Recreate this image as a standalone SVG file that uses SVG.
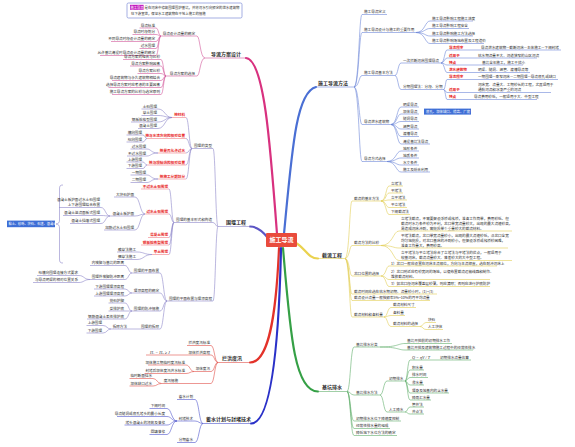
<svg xmlns="http://www.w3.org/2000/svg" width="575" height="447" viewBox="0 0 575 447">
<style>
text{font-family:"Noto Sans CJK SC","Noto Sans",sans-serif;fill:#2b2b2b}
.s{font-size:3.6px}
.m{font-size:5px;font-weight:700}
.r{font-size:3.6px;fill:#e8271f;font-weight:700}
.e{text-anchor:end}
.w{fill:#fff}
.f{font-family:"Liberation Serif",serif;font-style:italic;font-size:4.2px}
path{fill:none;stroke-width:.6}
.k{stroke-width:2.2;stroke-linecap:round}
.P{stroke:#d2579a}.B{stroke:#6f88d8}.V{stroke:#8d86c9}.Y{stroke:#e2cf55}.G{stroke:#62ae6c}.R{stroke:#e0504a}.D{stroke:#4f55cc}.Q{stroke:#ef7f86}
</style>
<rect width="575" height="447" fill="#fff"/>
<g id="connectors">
<path class="k" stroke="#d8317f" d="M277 234C270 140 264 60 246 58"/>
<path class="k" stroke="#4a6fd4" d="M284 234C292 150 296 92 316 87"/>
<path class="k" stroke="#5c55c4" d="M268 238C261 229 256 226.5 250 226.5"/>
<path class="k" stroke="#ead24e" d="M296 243C305 248 308 258.5 318 258.5"/>
<path class="k" stroke="#35a046" d="M283 248C290 330 294 391.5 318 391.5"/>
<path class="k" stroke="#e3322a" d="M279 248C276 320 268 362.5 250 362.5"/>
<path class="k" stroke="#2a31c8" d="M281 248C279 340 272 423.5 251 423.5"/>
<g class="P">
<path d="M205 58C200 58 200 36 197 36M205 58C200 58 200 76 197 76"/>
<path d="M161 36C158.5 36 158.5 28 156 28M161 36C158.5 36 158.5 34.5 156 34.5M161 36C158.5 36 158.5 41.5 156 41.5M161 36C158.5 36 158.5 48.5 156 48.5M161 36C158.5 36 158.5 55.5 156 55.5"/>
<path d="M166 76C163.5 76 163.5 59.5 161 59.5M166 76C163.5 76 163.5 66 161 66M166 76C163.5 76 163.5 73.5 161 73.5M166 76C163.5 76 163.5 80.5 161 80.5M166 76C163.5 76 163.5 87.5 161 87.5M166 76C163.5 76 163.5 94.5 161 94.5"/>
</g>
<g class="B">
<path d="M354 87C359 87 359 14.5 362 14.5M354 87C359 87 359 32.5 362 32.5M354 87C359 87 359 75.5 362 75.5M354 87C359 87 359 124.5 362 124.5M354 87C359 87 359 161.5 362 161.5"/>
<path d="M416 32.5C425 32.5 425 21 430 21M416 32.5C425 32.5 425 28.5 430 28.5M416 32.5C425 32.5 425 36 430 36M416 32.5C425 32.5 425 43.5 430 43.5"/>
<path d="M395 75.5C398 75.5 398 63 401 63M395 75.5C398 75.5 398 89.5 401 89.5"/>
<path d="M441 63C444.5 63 444.5 50 447 50M441 63C444.5 63 444.5 58 447 58M441 63C444.5 63 444.5 65 447 65M441 63C444.5 63 444.5 72.5 447 72.5"/>
<path d="M443.5 89.5C445.5 89.5 445.5 79.5 447 79.5M443.5 89.5C445.5 89.5 445.5 92.5 447 92.5M443.5 89.5C445.5 89.5 445.5 99.5 447 99.5"/>
<path d="M391 124.5C397 124.5 397 107 401 107M391 124.5C397 124.5 397 114 401 114M391 124.5C397 124.5 397 121.5 401 121.5M391 124.5C397 124.5 397 129 401 129M391 124.5C397 124.5 397 136.5 401 136.5M391 124.5C397 124.5 397 144 401 144"/>
<path d="M387 161.5C396 161.5 396 151 401 151M387 161.5C396 161.5 396 158 401 158M387 161.5C396 161.5 396 165 401 165M387 161.5C396 161.5 396 172 401 172"/>
</g>
<g class="Y">
<path d="M345 258.5C349.5 258.5 349.5 201 352 201M345 258.5C349.5 258.5 349.5 245.5 352 245.5M345 258.5C349.5 258.5 349.5 276 352 276M345 258.5C349.5 258.5 349.5 294 352 294M345 258.5C349.5 258.5 349.5 300.5 352 300.5M345 258.5C349.5 258.5 349.5 317 352 317"/>
<path d="M381 201C386 201 386 186 389 186M381 201C386 201 386 193 389 193M381 201C386 201 386 200 389 200M381 201C386 201 386 207.5 389 207.5M381 201C386 201 386 214.5 389 214.5"/>
<path d="M381 245.5C393 245.5 393 231 399 231M381 245.5C393 245.5 393 248 399 248M381 245.5C393 245.5 393 260.5 399 260.5"/>
<path d="M381 276C386 276 386 266 389 266M381 276C386 276 386 279.5 389 279.5M381 276C386 276 386 286.5 389 286.5"/>
<path d="M384 317C387.5 317 387.5 307.5 391 307.5M384 317C387.5 317 387.5 315.5 391 315.5M384 317C387.5 317 387.5 326.5 391 326.5"/>
<path d="M420 326.5C423 326.5 423 322.5 426 322.5M420 326.5C423 326.5 423 329.5 426 329.5"/>
</g>
<g class="G">
<path d="M347 391.5C350.5 391.5 350.5 347 354 347M347 391.5C350.5 391.5 350.5 395 354 395M347 391.5C350.5 391.5 350.5 421 354 421M347 391.5C350.5 391.5 350.5 428.5 354 428.5M347 391.5C350.5 391.5 350.5 435.5 354 435.5"/>
<path d="M380 347C398 347 398 343.5 405 343.5M380 347C398 347 398 350 405 350"/>
<path d="M380 395C383.5 395 383.5 381 387 381M380 395C383.5 395 383.5 412 387 412"/>
<path d="M405 381C407.5 381 407.5 360 410 360M405 381C407.5 381 407.5 370 410 370M405 381C407.5 381 407.5 377.5 410 377.5M405 381C407.5 381 407.5 385 410 385M405 381C407.5 381 407.5 393 410 393M405 381C407.5 381 407.5 400 410 400"/>
<path d="M405 412C407.5 412 407.5 407 410 407M405 412C407.5 412 407.5 414 410 414"/>
</g>
<g class="R">
<path d="M218 362.5C214.5 362.5 214.5 345.5 211 345.5M218 362.5C214.5 362.5 214.5 355 211 355M218 362.5C214.5 362.5 214.5 371.5 211 371.5M218 362.5C214.5 362.5 214.5 383.5 211 383.5"/>
<path d="M194 371.5C190 371.5 190 365 186 365M194 371.5C190 371.5 190 373.5 186 373.5"/>
<path d="M161.5 383.5C157 383.5 157 378.5 153 378.5M161.5 383.5C157 383.5 157 386 153 386"/>
</g>
<g class="D">
<path d="M203 423.5C199 423.5 199 399.5 195 399.5M203 423.5C199 423.5 199 421 195 421M203 423.5C199 423.5 199 442.5 195 442.5"/>
<path d="M177 421C171.5 421 171.5 408.5 167 408.5M177 421C171.5 421 171.5 416.5 167 416.5M177 421C171.5 421 171.5 425 167 425M177 421C171.5 421 171.5 434.5 167 434.5"/>
</g>
<g class="V">
<path d="M218 226.5C215.5 226.5 215.5 148.5 213 148.5M218 226.5C215.5 226.5 215.5 222.5 213 222.5M218 226.5C215.5 226.5 215.5 301 213 301"/>
<path d="M192 148.5C189 148.5 189 117.5 186 117.5M192 148.5C189 148.5 189 138.5 186 138.5M192 148.5C189 148.5 189 153 186 153M192 148.5C189 148.5 189 165 186 165M192 148.5C189 148.5 189 179 186 179"/>
<path d="M172 117.5C165 117.5 165 109 158 109M172 117.5C165 117.5 165 115.5 158 115.5M172 117.5C165 117.5 165 122 158 122M172 117.5C165 117.5 165 128.5 158 128.5"/>
<path d="M147 138.5C145 138.5 145 135 143 135M147 138.5C145 138.5 145 142 143 142"/>
<path d="M158 153C151 153 151 149 147 149M158 153C151 153 151 156 147 156"/>
<path d="M147 165C145 165 145 162 143 162M147 165C145 165 145 168.5 143 168.5"/>
<path d="M158 179C151 179 151 175 147 175M158 179C151 179 151 182.5 147 182.5"/>
<path d="M174 222.5C171.5 222.5 171.5 189 169 189M174 222.5C171.5 222.5 171.5 214 169 214M174 222.5C171.5 222.5 171.5 237.5 169 237.5M174 222.5C171.5 222.5 171.5 245 169 245M174 222.5C171.5 222.5 171.5 254.5 169 254.5"/>
<path d="M145 214C140 214 140 197 135 197M145 214C140 214 140 216 135 216M145 214C140 214 140 230 135 230"/>
<path d="M110 216C105.5 216 105.5 207.5 101 207.5M110 216C105.5 216 105.5 215.5 101 215.5M110 216C105.5 216 105.5 223.5 101 223.5"/>
<path d="M152 254.5C144 254.5 144 252 137 252M152 254.5C144 254.5 144 259.5 137 259.5"/>
<path d="M63 185C60 185 59.5 186 59.5 189V220C59.5 222.5 58.5 224 56 224C58.5 224 59.5 225.5 59.5 228V259C59.5 262 60 263 63 263"/>
<path d="M167 301C163.5 301 163.5 273 160 273M167 301C163.5 301 163.5 293 160 293M167 301C163.5 301 163.5 311 160 311M167 301C163.5 301 163.5 329 160 329"/>
<path d="M132 273C128.5 273 128.5 265.5 125 265.5M132 273C128.5 273 128.5 279.5 125 279.5"/>
<path d="M90 279.5C84 279.5 84 275.5 79 275.5M90 279.5C84 279.5 84 282.5 79 282.5"/>
<path d="M132 293C128.5 293 128.5 289 125 289M132 293C128.5 293 128.5 296 125 296"/>
<path d="M132 311C128.5 311 128.5 303 125 303M132 311C128.5 311 128.5 311 125 311M132 311C128.5 311 128.5 319 125 319"/>
<path d="M139 329H128M111 329C107 329 107 325.5 103 325.5M111 329C107 329 107 333 103 333"/>
</g>
</g>
<g id="note">
<rect x="127" y="3" width="115" height="15" rx="1.5" fill="#fff" stroke="#6a7bd0" stroke-width=".6"/>
<rect x="130" y="4.8" width="13.6" height="5" fill="#c21bc0"/>
<text class="w" x="130.6" y="8.8" font-size="3.2">施工导流</text>
<text x="144.5" y="8.8" font-size="3.4">是在河床中修筑围堰围护基坑，并将河水引向预定的泄水建筑物</text>
<text x="131" y="14.8" font-size="3.4">往下游宣泄，保证水工建筑物在干地上施工的措施</text>
</g>
<g id="root">
<rect x="266" y="233" width="31" height="14" rx="1" fill="#e94b3c"/>
<text class="w" x="281.5" y="242.3" font-size="6" font-weight="700" text-anchor="middle">施工导流</text>
</g>
<g id="b1"><text class="m" x="211" y="55.5">导流方案设计</text><path class="P" d="M205 58H247" stroke-width=".9"/></g>
<g id="b1-1"><text class="s e" x="195" y="34.5">导流设计流量的确定</text><path class="P" d="M161 36H197"/></g>
<g id="b1-1-1"><text class="s e" x="155" y="26.5">导流标准</text><path class="P" d="M139.5 28H156"/></g>
<g id="b1-1-2"><text class="s e" x="155" y="33">导流时段划分</text><path class="P" d="M132.5 34.5H156"/></g>
<g id="b1-1-3"><text class="s e" x="155" y="40">不同导流时段设计流量的确定</text><path class="P" d="M111 41.5H156"/></g>
<g id="b1-1-4"><text class="s e" x="155" y="47">过水围堰</text><path class="P" d="M139.5 48.5H156"/></g>
<g id="b1-1-5"><text class="s e" x="155" y="54">允许基坑淹没时导流设计流量的确定</text><path class="P" d="M100 55.5H156"/></g>
<g id="b1-2"><text class="s e" x="195" y="74.5">导流方案的选择</text><path class="P" d="M166 76H197"/></g>
<g id="b1-2-1"><text class="s e" x="160" y="58">导流方案的组合与比较</text><path class="P" d="M123 59.5H161"/></g>
<g id="b1-2-2"><text class="s e" x="160" y="64.5">导流方案影响因素</text><path class="P" d="M130 66H161"/></g>
<g id="b1-2-3"><text class="s e" x="160" y="72">导流方案比较</text><path class="P" d="M137.5 73.5H161"/></g>
<g id="b1-2-4"><text class="s e" x="160" y="79">导流建筑物与永久建筑物相结合</text><path class="P" d="M112 80.5H161"/></g>
<g id="b1-2-5"><text class="s e" x="160" y="86">选择导流方案时应考虑的主要因素</text><path class="P" d="M108.5 87.5H161"/></g>
<g id="b1-2-6"><text class="s e" x="160" y="93">施工导流方案的比较与选定原则</text><path class="P" d="M112 94.5H161"/></g>
<g id="b2"><text class="m" x="318" y="84.5">施工导流方法</text><path class="B" d="M316 87H354" stroke-width=".9"/></g>
<g id="b2-1"><text class="s" x="364" y="13">施工导流定义</text><path class="B" d="M362 14.5H387"/></g>
<g id="b2-2"><text class="s" x="364" y="31">施工导流设计与施工的重要作用</text><path class="B" d="M362 32.5H416"/></g>
<g id="b2-2-1"><text class="s" x="432" y="19.5">施工导流影响工程施工进度</text><path class="B" d="M430 21H473"/></g>
<g id="b2-2-2"><text class="s" x="432" y="27">施工导流影响工程安全</text><path class="B" d="M430 28.5H469"/></g>
<g id="b2-2-3"><text class="s" x="432" y="34.5">施工导流影响施工方法选择</text><path class="B" d="M430 36H473"/></g>
<g id="b2-2-4"><text class="s" x="432" y="42">施工导流影响场地布置及工程造价</text><path class="B" d="M430 43.5H484"/></g>
<g id="b2-3"><text class="s" x="364" y="74">施工导流基本方法</text><path class="B" d="M362 75.5H395"/></g>
<g id="b2-3-1"><text class="s" x="403" y="61.5">一次拦断河床围堰导流</text><path class="B" d="M401 63H441"/></g>
<g id="b2-3-1-1"><text class="r" x="449" y="48.5">导流程序</text><text class="s" x="481" y="48.5">导流泄水建筑物—截断河床—主体施工—下闸封堵</text><path class="B" d="M447 50H561"/></g>
<g id="b2-3-1-2"><text class="r" x="449" y="56.5">适用于</text><text class="s" x="478" y="56.5">枯水期流量不大、河道狭窄的山区河流</text><path class="B" d="M447 58H537"/></g>
<g id="b2-3-1-3"><text class="r" x="449" y="63.5">特点</text><text class="s" x="482" y="63.5">基坑全年施工，施工干扰小</text><path class="B" d="M447 65H523"/></g>
<g id="b2-3-1-4"><text class="r" x="449" y="71">泄水建筑物</text><text class="s" x="478" y="71">明渠、隧洞、涵管、渡槽导流等</text><path class="B" d="M447 72.5H530"/></g>
<g id="b2-3-2"><text class="s" x="403" y="88">分期围堰法：分段、分期</text><path class="B" d="M401 89.5H443.5"/></g>
<g id="b2-3-2-1"><text class="r" x="449" y="78">导流程序</text><text class="s" x="478" y="78">一期围堰—束窄河床—二期围堰—导流底孔或缺口</text><path class="B" d="M447 79.5H558"/></g>
<g id="b2-3-2-2"><text class="r" x="449" y="91">适用于</text><text class="s" x="478" y="86">河床宽、流量大、工期较长的工程，尤其适用于</text><text class="s" x="478" y="91">通航河流和冰凌严重的河流</text><path class="B" d="M447 92.5H551"/></g>
<g id="b2-3-2-3"><text class="r" x="449" y="98">特点</text><text class="s" x="474" y="98">导流费用较低，一般适用于大、中型工程</text><path class="B" d="M447 99.5H537"/></g>
<g id="b2-4"><text class="s" x="364" y="123">导流泄水建筑物</text><path class="B" d="M362 124.5H391"/></g>
<g id="b2-4-1"><text class="s" x="403" y="105.5">明渠导流</text><path class="B" d="M401 107H419"/></g>
<g id="b2-4-2"><text class="s" x="403" y="112.5">坝体导流</text><path class="B" d="M401 114H419"/><rect x="424" y="108.6" width="47" height="6" fill="#3f6fd6"/><text class="w" x="426" y="112.9" font-size="3.4">底孔、坝体缺口、梳齿、厂房</text></g>
<g id="b2-4-3"><text class="s" x="403" y="120">隧洞导流</text><path class="B" d="M401 121.5H419"/></g>
<g id="b2-4-4"><text class="s" x="403" y="127.5">涵管导流</text><path class="B" d="M401 129H419"/></g>
<g id="b2-4-5"><text class="s" x="403" y="135">渡槽导流</text><path class="B" d="M401 136.5H419"/></g>
<g id="b2-4-6"><text class="s" x="403" y="142.5">淹没基坑法导流</text><path class="B" d="M401 144H430"/></g>
<g id="b2-5"><text class="s" x="364" y="160">导流方式选择</text><path class="B" d="M362 161.5H387"/></g>
<g id="b2-5-1"><text class="s" x="403" y="149.5">地形条件</text><path class="B" d="M401 151H419"/></g>
<g id="b2-5-2"><text class="s" x="403" y="156.5">地质条件</text><path class="B" d="M401 158H419"/></g>
<g id="b2-5-3"><text class="s" x="403" y="163.5">水文条件</text><path class="B" d="M401 165H419"/></g>
<g id="b2-5-4"><text class="s" x="403" y="170.5">施工及综合利用</text><path class="B" d="M401 172H430"/></g>
<g id="b3"><text class="m" x="226" y="224">围堰工程</text><path class="V" d="M218 226.5H250" stroke-width=".9"/></g>
<g id="b3-1"><text class="s e" x="212" y="147">围堰的类型</text><path class="V" d="M192 148.5H213"/></g>
<g id="b3-1-1"><text class="r e" x="185" y="116">按材料</text><path class="Q" d="M172 117.5H186"/></g>
<g id="b3-1-1a"><text class="s e" x="157" y="107.5">土石围堰</text><path class="V" d="M141.5 109H158"/></g>
<g id="b3-1-1b"><text class="s e" x="157" y="114">草土围堰</text><path class="V" d="M141.5 115.5H158"/></g>
<g id="b3-1-1c"><text class="s e" x="157" y="120.5">钢板桩格型围堰</text><path class="V" d="M131 122H158"/></g>
<g id="b3-1-1d"><text class="s e" x="157" y="127">混凝土围堰</text><path class="V" d="M138 128.5H158"/></g>
<g id="b3-1-2"><text class="r e" x="185" y="137">按与水流方向的相对位置</text><path class="Q" d="M147 138.5H186"/></g>
<g id="b3-1-2a"><text class="s e" x="142" y="133.5">横向围堰</text><path class="V" d="M126.5 135H143"/></g>
<g id="b3-1-2b"><text class="s e" x="142" y="140.5">纵向围堰</text><path class="V" d="M126.5 142H143"/></g>
<g id="b3-1-3"><text class="r e" x="185" y="151.5">按是否允许过水</text><path class="Q" d="M158 153H186"/></g>
<g id="b3-1-3a"><text class="s e" x="146" y="147.5">过水围堰</text><path class="V" d="M130.5 149H147"/></g>
<g id="b3-1-3b"><text class="s e" x="146" y="154.5">不过水围堰</text><path class="V" d="M127 156H147"/></g>
<g id="b3-1-4"><text class="r e" x="185" y="163.5">按与坝轴线的相对位置</text><path class="Q" d="M147 165H186"/></g>
<g id="b3-1-4a"><text class="s e" x="142" y="160.5">上游围堰</text><path class="V" d="M126.5 162H143"/></g>
<g id="b3-1-4b"><text class="s e" x="142" y="167">下游围堰</text><path class="V" d="M126.5 168.5H143"/></g>
<g id="b3-1-5"><text class="r e" x="185" y="177.5">按施工分期划分</text><path class="Q" d="M158 179H186"/></g>
<g id="b3-1-5a"><text class="s e" x="146" y="173.5">一期围堰</text><path class="V" d="M130.5 175H147"/></g>
<g id="b3-1-5b"><text class="s e" x="146" y="181">二期围堰</text><path class="V" d="M130.5 182.5H147"/></g>
<g id="b3-2"><text class="s e" x="212" y="221">围堰的基本形式和构造</text><path class="V" d="M174 222.5H213"/></g>
<g id="b3-2-1"><text class="r e" x="168" y="187.5">不过水土石围堰</text><path class="Q" d="M141 189H169"/></g>
<g id="b3-2-2"><text class="r e" x="168" y="212.5">过水土石围堰</text><path class="Q" d="M145 214H169"/></g>
<g id="b3-2-2a"><text class="s e" x="134" y="195.5">大块石护面</text><path class="V" d="M114 197H135"/></g>
<g id="b3-2-2b"><text class="s e" x="134" y="214.5">混凝土板护面</text><path class="V" d="M110 216H135"/></g>
<g id="b3-2-2b1"><text class="s e" x="100" y="201">混凝土板护面过水土石围堰</text><text class="s e" x="100" y="206">上下游围堰结合布置</text><path class="V" d="M59 207.5H101"/></g>
<g id="b3-2-2b2"><text class="s e" x="100" y="214">混凝土溢流面板式围堰</text><path class="V" d="M63 215.5H101"/></g>
<g id="b3-2-2b3"><text class="s e" x="100" y="222">混凝土挡墙式围堰</text><path class="V" d="M70 223.5H101"/></g>
<g id="b3-2-2c"><text class="s e" x="134" y="228.5">加筋过水土石围堰</text><path class="V" d="M104 230H135"/></g>
<g id="b3-2-3"><text class="r e" x="168" y="236">混凝土围堰</text><path class="Q" d="M148 237.5H169"/></g>
<g id="b3-2-4"><text class="r e" x="168" y="243.5">钢板桩格型围堰</text><path class="Q" d="M141 245H169"/></g>
<g id="b3-2-5"><text class="r e" x="168" y="253">草土围堰</text><path class="Q" d="M152 254.5H169"/></g>
<g id="b3-2-5a"><text class="s e" x="136" y="250.5">散草法施工</text><path class="V" d="M117 252H137"/></g>
<g id="b3-2-5b"><text class="s e" x="136" y="258">捆草法施工</text><path class="V" d="M117 259.5H137"/></g>
<g id="b3-sum"><rect x="7" y="220.6" width="48" height="6.6" fill="#3e6ed6"/><text class="w" x="8.5" y="225.2" font-size="3.2">黏土、砂砾、块石、石渣、混凝土</text></g>
<g id="b3-3"><text class="s e" x="212" y="299.5">围堰的平面布置与堰顶高程</text><path class="V" d="M167 301H213"/></g>
<g id="b3-3-1"><text class="s e" x="159" y="271.5">围堰的平面布置</text><path class="V" d="M132 273H160"/></g>
<g id="b3-3-1a"><text class="s e" x="124" y="264">内坡脚与基坑的距离</text><path class="V" d="M90 265.5H125"/></g>
<g id="b3-3-1b"><text class="s e" x="124" y="278">围堰外坡脚防冲距离</text><path class="V" d="M90 279.5H125"/></g>
<g id="b3-3-1b1"><text class="s e" x="78" y="274">纵横向围堰连接方式要求</text><path class="V" d="M37 275.5H79"/></g>
<g id="b3-3-1b2"><text class="s e" x="78" y="281">与导流明渠的相对位置关系</text><path class="V" d="M33 282.5H79"/></g>
<g id="b3-3-2"><text class="s e" x="159" y="291.5">堰顶高程的确定</text><path class="V" d="M132 293H160"/></g>
<g id="b3-3-2a"><text class="s e" x="124" y="287.5">下游围堰堰顶高程</text><path class="V" d="M94 289H125"/></g>
<g id="b3-3-2b"><text class="s e" x="124" y="294.5">上游围堰堰顶高程</text><path class="V" d="M94 296H125"/></g>
<g id="b3-3-3"><text class="s e" x="159" y="309.5">围堰的防冲措施</text><path class="V" d="M132 311H160"/></g>
<g id="b3-3-3a"><text class="s e" x="124" y="301.5">抛石护脚</text><path class="V" d="M108.5 303H125"/></g>
<g id="b3-3-3b"><text class="s e" x="124" y="309.5">柴排护底</text><path class="V" d="M108.5 311H125"/></g>
<g id="b3-3-3c"><text class="s e" x="124" y="317.5">钢筋混凝土柔性排护底</text><path class="V" d="M87 319H125"/></g>
<g id="b3-3-4"><text class="s e" x="159" y="327.5">围堰的拆除</text><path class="V" d="M139 329H160"/></g>
<g id="b3-3-4a"><text class="s e" x="127" y="327.5">拆除方法</text><path class="V" d="M111 329H128"/></g>
<g id="b3-3-4a1"><text class="s e" x="102" y="324">上游围堰</text><path class="V" d="M86.5 325.5H103"/></g>
<g id="b3-3-4a2"><text class="s e" x="102" y="331.5">下游围堰</text><path class="V" d="M86.5 333H103"/></g>
<g id="b4"><text class="m" x="322" y="256.5">截流工程</text><path class="Y" d="M318 258.5H345" stroke-width=".9"/></g>
<g id="b4-1"><text class="s" x="354" y="199.5">截流的基本方法</text><path class="Y" d="M352 201H381"/></g>
<g id="b4-1-1"><text class="s" x="391" y="184.5">立堵法</text><path class="Y" d="M389 186H403"/></g>
<g id="b4-1-2"><text class="s" x="391" y="191.5">平堵法</text><path class="Y" d="M389 193H403"/></g>
<g id="b4-1-3"><text class="s" x="391" y="198.5">立平堵法</text><path class="Y" d="M389 200H407"/></g>
<g id="b4-1-4"><text class="s" x="391" y="206">平立堵法</text><path class="Y" d="M389 207.5H407"/></g>
<g id="b4-1-5"><text class="s" x="391" y="213">下闸截流法</text><path class="Y" d="M389 214.5H410"/></g>
<g id="b4-2"><text class="s" x="354" y="244">截流方法的比较</text><path class="Y" d="M352 245.5H381"/></g>
<g id="b4-2-1"><text class="s" x="401" y="219.5">立堵法截流，不需要架设浮桥或栈桥，准备工作简单，费用较低。但</text><text class="s" x="401" y="224.5">截流时水力条件较为不利，龙口单宽流量较大，出现的最大流速较高，</text><text class="s" x="401" y="229.5">易造成河床冲刷，需抛投单个重量较大的截流材料。</text><path class="Y" d="M399 231H512"/></g>
<g id="b4-2-2"><text class="s" x="401" y="236.5">平堵法截流，龙口单宽流量较小，出现的最大流速较低，沿龙口全宽</text><text class="s" x="401" y="241.5">均匀地抛投，对龙口基床的冲刷较小，但架设浮桥或栈桥较困难，</text><text class="s" x="401" y="246.5">准备工作量大，费用较高。</text><path class="Y" d="M399 248H508"/></g>
<g id="b4-2-3"><text class="s" x="401" y="253.5">立平堵法与平立堵法综合了立堵法与平堵法的优点，一般适用于</text><text class="s" x="401" y="258.5">软基河床，截流流量较大、落差较大的大中型工程。</text><path class="Y" d="M399 260.5H512"/></g>
<g id="b4-3"><text class="s" x="354" y="274.5">龙口位置的选择</text><path class="Y" d="M352 276H381"/></g>
<g id="b4-3-1"><text class="s" x="391" y="264.5">1）龙口一般应设置在河床主流部位，方向与主流顺直，选在耐冲河床上</text><path class="Y" d="M389 266H497"/></g>
<g id="b4-3-2"><text class="s" x="391" y="273">2）龙口附近应有较宽阔的场地，以便布置截流运输线路和制作、</text><text class="s" x="391" y="278">堆放截流材料。</text><path class="Y" d="M389 279.5H490"/></g>
<g id="b4-3-3"><text class="s" x="391" y="285">3）如龙口段河床覆盖层较薄，则应清除；否则应进行护底防护</text><path class="Y" d="M389 286.5H490"/></g>
<g id="b4-4"><text class="s" x="354" y="292.5">截流时间应选在枯水期初期、流量较小时，(1)~(3)</text><path class="Y" d="M352 294H437"/></g>
<g id="b4-5"><text class="s" x="354" y="299">截流设计流量一般按频率5%~10%的月平均流量</text><path class="Y" d="M352 300.5H430"/></g>
<g id="b4-6"><text class="s" x="354" y="315.5">截流材料和备料量</text><path class="Y" d="M352 317H384"/></g>
<g id="b4-6-1"><text class="s" x="393" y="306">截流材料尺寸</text><path class="Y" d="M391 307.5H416"/></g>
<g id="b4-6-2"><text class="s" x="393" y="314">备料量</text><path class="Y" d="M391 315.5H405"/></g>
<g id="b4-6-3"><text class="s" x="393" y="325">截流材料的选择</text><path class="Y" d="M391 326.5H420"/></g>
<g id="b4-6-3a"><text class="s" x="428" y="321">块石</text><path class="Y" d="M426 322.5H436"/></g>
<g id="b4-6-3b"><text class="s" x="428" y="328">人工块体</text><path class="Y" d="M426 329.5H443"/></g>
<g id="b5"><text class="m" x="322" y="389">基坑排水</text><path class="G" d="M318 391.5H347" stroke-width=".9"/></g>
<g id="b5-1"><text class="s" x="356" y="345.5">基坑排水分类</text><path class="G" d="M354 347H380"/></g>
<g id="b5-1-1"><text class="s" x="407" y="342">基坑开挖前的初期排水工作</text><path class="G" d="M405 343.5H452"/></g>
<g id="b5-1-2"><text class="s" x="407" y="348.5">基坑开挖及建筑物施工过程中的经常性排水</text><path class="G" d="M405 350H473"/></g>
<g id="b5-2"><text class="s" x="356" y="393.5">基坑排水方法</text><path class="G" d="M354 395H380"/></g>
<g id="b5-2-1"><text class="s" x="389" y="379.5">初期排水</text><path class="G" d="M387 381H405"/></g>
<g id="b5-2-1a"><text class="f" x="412" y="358.5">Q = ηV / T</text><text class="s" x="440" y="358.5">初期排水流量估算</text><path class="G" d="M410 360H471"/></g>
<g id="b5-2-1b"><text class="s" x="412" y="368.5">积水量</text><path class="G" d="M410 370H424"/></g>
<g id="b5-2-1c"><text class="s" x="412" y="376">排水时间</text><path class="G" d="M410 377.5H428"/></g>
<g id="b5-2-1d"><text class="s" x="412" y="383.5">渗水量</text><path class="G" d="M410 385H424"/></g>
<g id="b5-2-1e"><text class="s" x="412" y="391.5">堰身及地基内的含水量</text><path class="G" d="M410 393H449"/></g>
<g id="b5-2-1f"><text class="s" x="412" y="398.5">降雨汇水量</text><path class="G" d="M410 400H431"/></g>
<g id="b5-2-2"><text class="s" x="389" y="410.5">人工降水</text><path class="G" d="M387 412H405"/></g>
<g id="b5-2-2a"><text class="s" x="412" y="405.5">管井法</text><path class="G" d="M410 407H424"/></g>
<g id="b5-2-2b"><text class="s" x="412" y="412.5">井点法</text><path class="G" d="M410 414H424"/></g>
<g id="b5-3"><text class="s" x="356" y="419.5">初期排水水位下降速度控制</text><path class="G" d="M354 421H401"/></g>
<g id="b5-4"><text class="s" x="356" y="427">经常性排水量的组成</text><path class="G" d="M354 428.5H390"/></g>
<g id="b5-5"><text class="s" x="356" y="434">降低地下水位方法的确定</text><path class="G" d="M354 435.5H397"/></g>
<g id="b6"><text class="m" x="222" y="360">拦洪度汛</text><path class="R" d="M218 362.5H250" stroke-width=".9"/></g>
<g id="b6-1"><text class="s e" x="210" y="344">拦洪度汛标准</text><path class="R" d="M187 345.5H211"/></g>
<g id="b6-2"><text class="f" x="150" y="353.5">H<tspan font-size="2.6" dy=".8">1</tspan><tspan dy="-.8"> − H</tspan><tspan font-size="2.6" dy=".8">2</tspan><tspan dy="-.8"> ≥ J</tspan></text><text class="s e" x="210" y="353.5">坝体拦洪高程</text><path class="R" d="M146 355H211"/></g>
<g id="b6-3"><text class="s e" x="210" y="370">坝体度汛</text><path class="R" d="M194 371.5H211"/></g>
<g id="b6-3a"><text class="s e" x="185" y="363.5">坝体施工期临时度汛标准</text><path class="R" d="M148 365H186"/></g>
<g id="b6-3b"><text class="s e" x="185" y="372">封堵后坝体度汛洪水标准</text><path class="R" d="M144.5 373.5H186"/></g>
<g id="b6-4"><text class="s e" x="178" y="382">度汛措施</text><path class="R" d="M161.5 383.5H211"/></g>
<g id="b6-4a"><text class="s e" x="152" y="377">临时断面挡水</text><path class="R" d="M129.5 378.5H153"/></g>
<g id="b6-4b"><text class="s e" x="152" y="384.5">坝体缺口过水</text><path class="R" d="M129.5 386H153"/></g>
<g id="b7"><text class="m" x="206" y="421" font-size="4.6">蓄水计划与封堵技术</text><path class="D" d="M203 423.5H251" stroke-width=".9"/></g>
<g id="b7-1"><text class="s e" x="193" y="398">蓄水计划</text><path class="D" d="M177 399.5H195"/></g>
<g id="b7-2"><text class="s e" x="193" y="419.5">封堵技术</text><path class="D" d="M177 421H195"/></g>
<g id="b7-2a"><text class="s e" x="165" y="407">下闸时间</text><path class="D" d="M149.5 408.5H167"/></g>
<g id="b7-2b"><text class="s e" x="165" y="415">导流隧洞或底孔堵头的最小长度</text><path class="D" d="M117 416.5H167"/></g>
<g id="b7-2c"><text class="s e" x="165" y="423.5">堵头混凝土的浇筑及灌浆</text><path class="D" d="M124.5 425H167"/></g>
<g id="b7-2d"><text class="s e" x="165" y="433">回填灌浆</text><path class="D" d="M149.5 434.5H167"/></g>
<g id="b7-3"><text class="s e" x="193" y="441">分期蓄水</text><path class="D" d="M177 442.5H195"/></g>
</svg>
